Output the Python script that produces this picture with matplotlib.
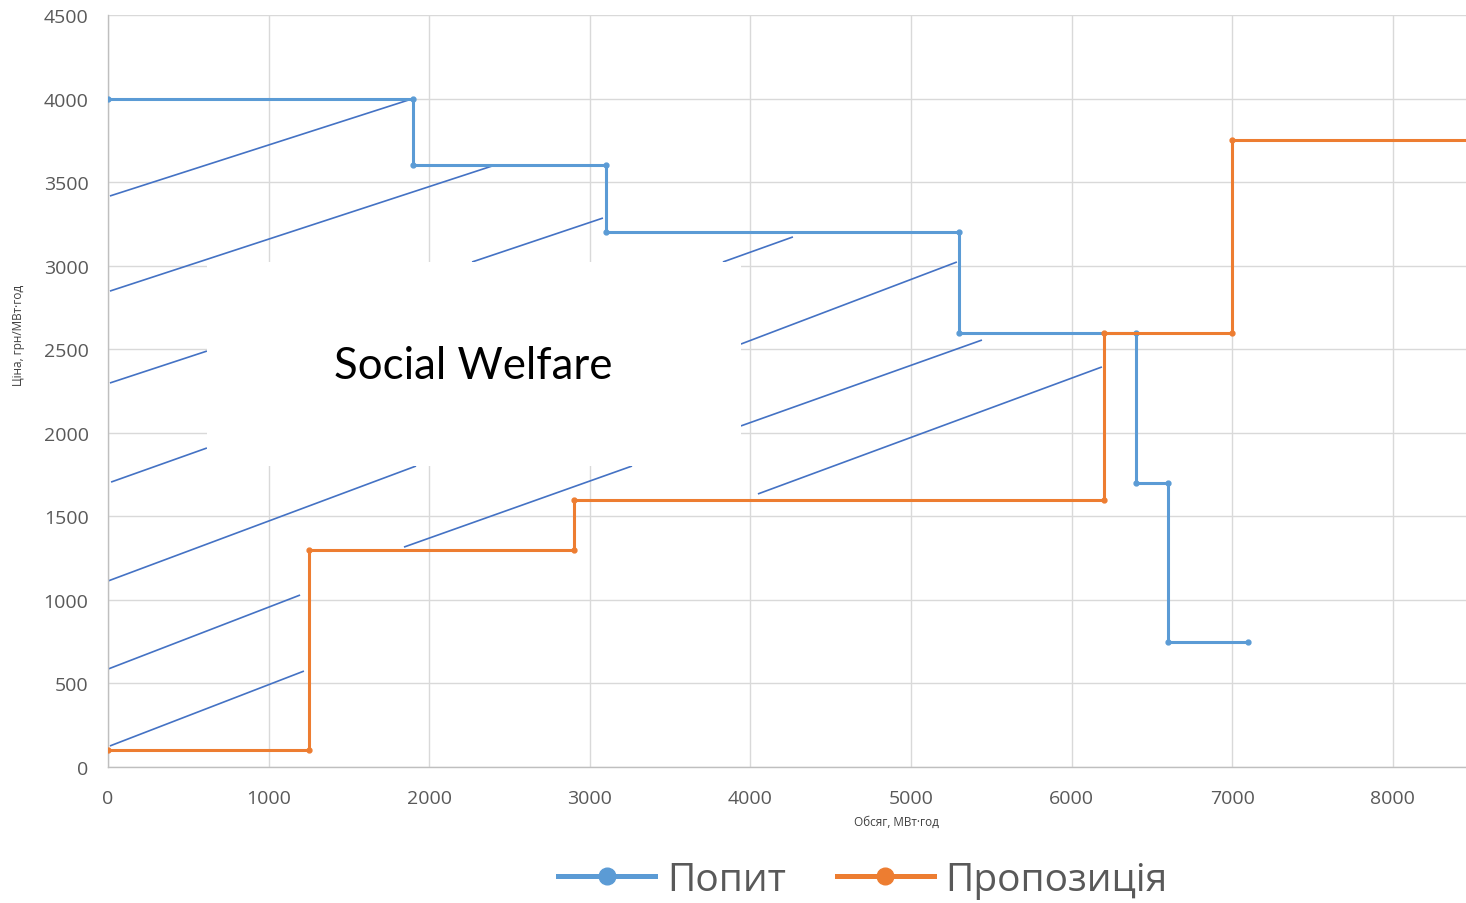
import matplotlib
matplotlib.use("Agg")
import matplotlib.pyplot as plt
from matplotlib.lines import Line2D
from matplotlib.patches import Rectangle

# demand (Попит) and supply (Пропозиція) step curves, MWh vs UAH/MWh
demand_x = [0, 1900, 1900, 3100, 3100, 5300, 5300, 6400, 6400, 6600, 6600, 7100]
demand_y = [4000, 4000, 3600, 3600, 3200, 3200, 2600, 2600, 1700, 1700, 750, 750]
supply_x = [0, 1250, 1250, 2900, 2900, 6200, 6200, 7000, 7000, 8600]
supply_y = [100, 100, 1300, 1300, 1600, 1600, 2600, 2600, 3750, 3750]

# hand-drawn hatch strokes across the welfare area (x0, y0, x1, y1)
hatch_x0 = [12, 12, 2267, 3829, 12, 3941, 19, 3941, 0, 1843, 4047, 0, 12]
hatch_y0 = [3417, 2848, 3022, 3022, 2298, 2531, 1705, 2041, 1113, 1316, 1634, 586, 126]
hatch_x1 = [1900, 2391, 3082, 4265, 616, 5286, 616, 5442, 1918, 3263, 6189, 1196, 1220]
hatch_y1 = [4000, 3596, 3285, 3172, 2489, 3022, 1909, 2555, 1801, 1801, 2394, 1029, 574]

x_ticks = list(range(0, 9000, 1000))
y_ticks = list(range(0, 5000, 500))

BLUE = "#5b9bd5"
ORANGE = "#ed7d31"
HATCH = "#4472c4"
GREY = "#595959"

plt.rcParams["font.family"] = ["Open Sans", "DejaVu Sans"]

fig = plt.figure(figsize=(14.66, 9.04), dpi=100)
ax = fig.add_axes([108 / 1466, 136 / 904, 1358 / 1466, 752 / 904])

for x0, y0, x1, y1 in zip(hatch_x0, hatch_y0, hatch_x1, hatch_y1):
    ax.plot([x0, x1], [y0, y1], color=HATCH, lw=1.2, zorder=2, solid_capstyle="butt")

# white label box hides grid and strokes underneath
ax.add_patch(Rectangle((615, 1801), 3941 - 615, 3022 - 1801,
                       facecolor="white", edgecolor="none", zorder=2.5))
ax.text(2273, 2400, "Social Welfare", fontsize=31.5, family=["Lato", "DejaVu Sans"],
        ha="center", va="center", color="black", zorder=3)

ax.plot(demand_x, demand_y, color=BLUE, lw=2.2, marker="o", ms=3.5, zorder=4)
ax.plot(supply_x, supply_y, color=ORANGE, lw=2.2, marker="o", ms=3.5, zorder=4)

ax.set_xlim(0, 8456)
ax.set_ylim(0, 4500)
ax.set_xticks(x_ticks)
ax.set_yticks(y_ticks)
ax.grid(True, color="#d9d9d9", lw=1)
ax.set_axisbelow(True)
ax.tick_params(length=0, labelsize=14, labelcolor=GREY)
ax.tick_params(axis="x", pad=16)
ax.tick_params(axis="y", pad=14)
for s in ["top", "right"]:
    ax.spines[s].set_visible(False)
for s in ["left", "bottom"]:
    ax.spines[s].set_color("#bfbfbf")
    ax.spines[s].set_linewidth(1)

fig.text(19 / 1466, 1 - 335 / 904, "Ціна, грн/МВт·год", rotation=90,
         ha="center", va="center", fontsize=8.5, color="#404040")
fig.text(896 / 1466, 1 - 822 / 904, "Обсяг, МВт·год",
         ha="center", va="center", fontsize=8.5, color="#404040")

# legend sits low like the source, nudged up just enough to keep descenders inside
handles = [Line2D([], [], color=BLUE, lw=3.6, marker="o", ms=12),
           Line2D([], [], color=ORANGE, lw=3.6, marker="o", ms=12)]
leg = fig.legend(handles, ["Попит", "Пропозиція"], loc="center",
                 bbox_to_anchor=(863 / 1466, 1 - 881 / 904), ncol=2, frameon=False,
                 fontsize=28, handlelength=2.5, handletextpad=0.3, columnspacing=1.3,
                 borderpad=0.1)
for t in leg.get_texts():
    t.set_color(GREY)

fig.savefig("out.png", dpi=100)
